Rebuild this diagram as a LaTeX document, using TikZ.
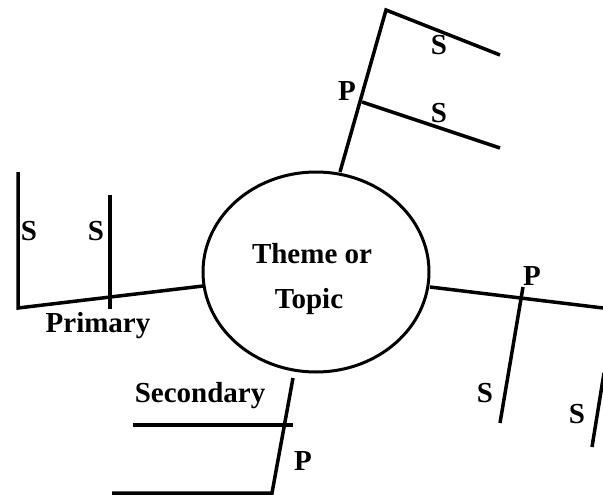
\documentclass[tikz,border=0pt]{standalone}
\usepackage{fontspec}
\setmainfont{Liberation Serif}
\usetikzlibrary{shapes.geometric}
\begin{document}
\begin{tikzpicture}[x=1pt,y=-1pt,
  ln/.style={line width=3.5pt},
  lbl/.style={font=\fontsize{29}{31}\selectfont\bfseries, inner sep=0pt, anchor=base}]
\useasboundingbox (0,0) rectangle (603,495);
\node[draw, ellipse, line width=3pt, minimum width=226pt, minimum height=200pt, inner sep=0pt] (theme) at (316,272) {};
\node[lbl] (t1) at (312,263) {Theme or};
\node[lbl] (t2) at (309,308) {Topic};
% top branch
\coordinate (a0) at (340,172);
\coordinate (a1) at (386,10);
\coordinate (a2) at (500,55);
\coordinate (a3) at (362,102);
\coordinate (a4) at (500,148);
\draw[ln] (a0) -- (a1) -- (a2);
\draw[ln] (a3) -- (a4);
\node[lbl] (sa1) at (439,55) {S};
\node[lbl] (sa2) at (439,123) {S};
\node[lbl] (pa) at (347,100) {P};
% left branch
\coordinate (b0) at (203,286);
\coordinate (b1) at (18,308);
\coordinate (b2) at (18,172);
\coordinate (b3) at (110,195);
\coordinate (b4) at (110,309);
\draw[ln] (b0) -- (b1) -- (b2);
\draw[ln] (b3) -- (b4);
\node[lbl] (sb1) at (29,240) {S};
\node[lbl] (sb2) at (96,240) {S};
\node[lbl] (pb) at (98,332) {Primary};
% right branch
\coordinate (c0) at (430,287);
\coordinate (c1) at (603,308);
\coordinate (c2) at (523,287);
\coordinate (c3) at (500,423);
\coordinate (c4) at (604,373);
\coordinate (c5) at (592,447);
\draw[ln] (c0) -- (c1);
\draw[ln] (c2) -- (c3);
\draw[ln] (c4) -- (c5);
\node[lbl] (pc) at (532,285) {P};
\node[lbl] (sc1) at (485,402) {S};
\node[lbl] (sc2) at (577,423) {S};
% bottom branch
\coordinate (d0) at (293,378);
\coordinate (d1) at (272,493);
\coordinate (d2) at (112,493);
\coordinate (d3) at (133,425);
\coordinate (d4) at (293,425);
\draw[ln] (d0) -- (d1) -- (d2);
\draw[ln] (d3) -- (d4);
\node[lbl] (sd) at (200,402) {Secondary};
\node[lbl] (pd) at (303,470) {P};
\end{tikzpicture}
\end{document}
